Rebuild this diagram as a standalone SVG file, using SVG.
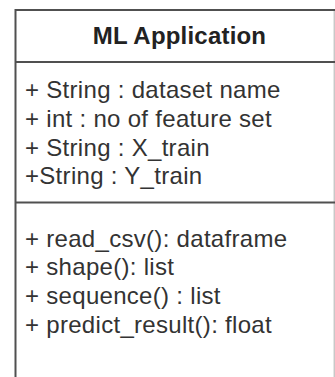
<svg xmlns="http://www.w3.org/2000/svg" width="335" height="377" viewBox="0 0 335 377">
  <style>
    .frame { fill: none; stroke: #505050; stroke-width: 2; }
    .edge { stroke: #c8c8c8; stroke-width: 1.5; }
    .title { font-family: "Liberation Sans", Arial, sans-serif; font-size: 24px; font-weight: bold; fill: #222; letter-spacing: 0.2px; }
    .member { font-family: "Liberation Sans", Arial, sans-serif; font-size: 24px; fill: #333; letter-spacing: 0.3px; }
  </style>
  <rect width="335" height="377" fill="#ffffff"/>
  <!-- UML class: ML Application -->
  <g id="ml-application">
    <rect x="15.5" y="10" width="340" height="400" fill="#ffffff" stroke="none"/>
    <line class="edge" x1="334.3" y1="10" x2="334.3" y2="377"/>
    <path class="frame" d="M15.5 377 V10 H335"/>
    <line class="frame" x1="15.5" y1="62" x2="335" y2="62"/>
    <line class="frame" x1="15.5" y1="202.5" x2="335" y2="202.5"/>
    <text class="title" x="179.5" y="44" text-anchor="middle">ML Application</text>
    <text class="member" x="25" y="98">+ String : dataset name</text>
    <text class="member" x="25" y="126.8">+ int : no of feature set</text>
    <text class="member" x="25" y="155.6">+ String : X_train</text>
    <text class="member" x="25" y="184.4">+String : Y_train</text>
    <text class="member" x="25" y="246.5">+ read_csv(): dataframe</text>
    <text class="member" x="25" y="275.3">+ shape(): list</text>
    <text class="member" x="25" y="304.1">+ sequence() : list</text>
    <text class="member" x="25" y="332.9">+ predict_result(): float</text>
  </g>
</svg>
